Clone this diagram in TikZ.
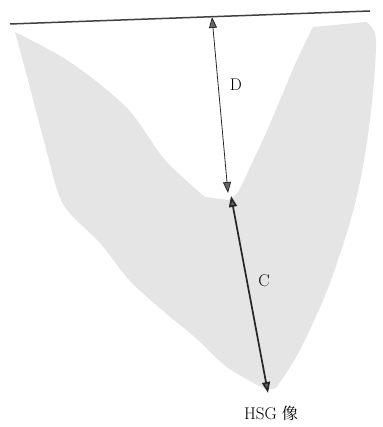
\documentclass[tikz,border=0pt]{standalone}
\usepackage{fontspec}
\newfontfamily\cjkfont{Noto Serif CJK SC}
\usetikzlibrary{arrows.meta}
\begin{document}
\begin{tikzpicture}[x=1pt,y=-1pt,
  stipple/.style={fill=black!10,draw=none},
  dim/.style={draw=black!85,line width=0.8pt,{Triangle[length=11pt,width=8pt,fill=black!60]}-{Triangle[length=11pt,width=8pt,fill=black!60]}},
  dimthick/.style={dim,line width=1.7pt},
  lbl/.style={font=\fontsize{17}{20}\selectfont,inner sep=1pt}]
\useasboundingbox (0,0) rectangle (382,427);
% stippled V region
\path[stipple] plot[smooth,tension=0.5] coordinates {(15,32) (28,80) (45,145) (63,204) (100,243) (130,281) (162,310) (198,340) (228,368) (267,390)}
  -- plot[smooth,tension=0.5] coordinates {(276,388) (300,350) (330,283) (356,200) (370,120) (376,40) (366,22)}
  -- plot[smooth,tension=0.5] coordinates {(313,27) (297,60) (280,100) (266,133) (252,163) (238,192) (228,200)}
  -- plot[smooth,tension=0.5] coordinates {(205,197) (165,160) (127,108) (70,62) (15,32)} -- cycle;
% top surface line
\coordinate (lineL) at (10,24);
\coordinate (lineR) at (370,11);
\draw[line width=1.5pt,black!75] (lineL) -- (lineR);
% arrows
\coordinate (dtop) at (212,17);
\coordinate (dbot) at (228,193);
\coordinate (ctop) at (231,196);
\coordinate (cbot) at (268,393);
\draw[dim] (dtop) -- (dbot);
\draw[dimthick] (ctop) -- (cbot);
% labels
\node[lbl] (D) at (236,85) {D};
\node[lbl] (C) at (264,281) {C};
\node[lbl] (hsg) at (271,413) {HSG {\cjkfont\fontsize{16}{19}\selectfont 像}};
\end{tikzpicture}
\end{document}
